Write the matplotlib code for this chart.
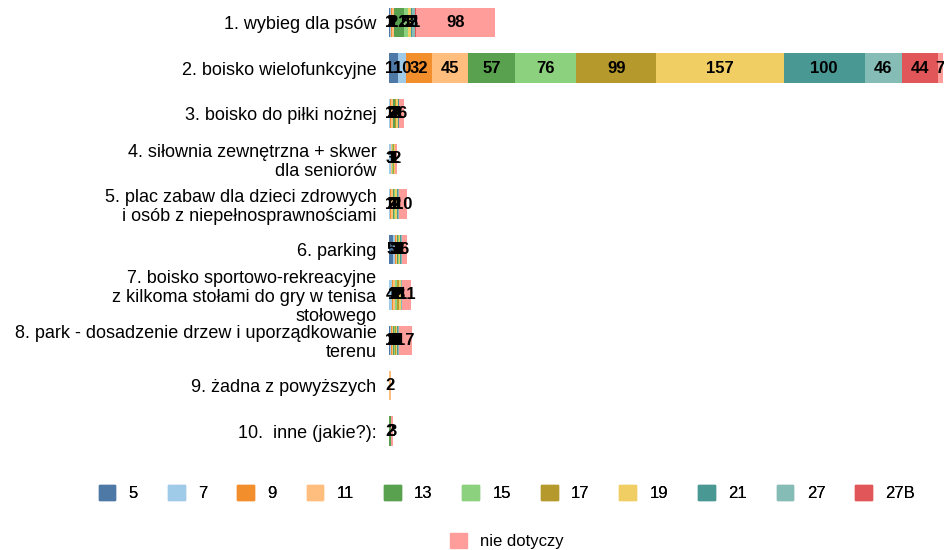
import matplotlib.pyplot as plt
import numpy as np
from matplotlib.patches import Patch

plt.rcParams['font.family'] = ['Liberation Sans', 'DejaVu Sans']

# categories (top to bottom)
categories = [
    "1. wybieg dla psów",
    "2. boisko wielofunkcyjne",
    "3. boisko do piłki nożnej",
    "4. siłownia zewnętrzna + skwer\ndla seniorów",
    "5. plac zabaw dla dzieci zdrowych\ni osób z niepełnosprawnościami",
    "6. parking",
    "7. boisko sportowo-rekreacyjne\nz kilkoma stołami do gry w tenisa\nstołowego",
    "8. park - dosadzenie drzew i uporządkowanie\nterenu",
    "9. żadna z powyższych",
    "10.  inne (jakie?):",
]

series_names = ["5", "7", "9", "11", "13", "15", "17", "19", "21", "27", "27B", "nie dotyczy"]
colors = ["#4e79a7", "#a0cbe8", "#f28e2b", "#ffbe7d", "#59a14f", "#8cd17d",
          "#b6992d", "#f1ce63", "#499894", "#86bcb6", "#e15759", "#ff9d9a"]

s5 = [1, 11, 0, 0, 0, 5, 0, 1, 0, 0]
s7 = [2, 10, 1, 3, 1, 3, 4, 2, 0, 0]
s9 = [1, 32, 2, 0, 2, 1, 1, 1, 0, 0]
s11 = [2, 45, 2, 1, 2, 1, 2, 1, 2, 0]
s13 = [12, 57, 2, 0, 1, 1, 1, 1, 0, 2]
s15 = [5, 76, 1, 1, 1, 2, 2, 2, 0, 0]
s17 = [1, 99, 1, 1, 1, 0, 2, 1, 0, 0]
s19 = [3, 157, 2, 1, 2, 1, 3, 1, 0, 0]
s21 = [2, 100, 1, 0, 1, 1, 0, 1, 0, 0]
s27 = [3, 46, 0, 1, 1, 1, 1, 1, 0, 0]
s27b = [1, 44, 1, 0, 0, 0, 0, 0, 0, 0]
nie_dotyczy = [98, 7, 6, 2, 10, 6, 11, 17, 0, 3]

data = [s5, s7, s9, s11, s13, s15, s17, s19, s21, s27, s27b, nie_dotyczy]

fig = plt.figure(figsize=(9.44, 5.5), dpi=100)
ax = fig.add_axes([0.412, 0.175, 0.588, 0.825])

y = np.arange(len(categories))
left = np.zeros(len(categories))
for name, vals, col in zip(series_names, data, colors):
    vals = np.array(vals, dtype=float)
    bars = ax.barh(y, vals, left=left, height=0.65, color=col, label=name)
    for b, v in zip(bars, vals):
        if v > 0:
            ax.text(b.get_x() + b.get_width() / 2, b.get_y() + b.get_height() / 2,
                    f"{int(v)}", ha="center", va="center", fontsize=12,
                    fontweight="bold", color="black")
    left += vals

ax.set_xlim(0, 685)
ax.set_ylim(len(categories) - 0.5, -0.5)
ax.set_yticks(y)
ax.set_yticklabels(categories, fontsize=13, linespacing=1.15)
ax.tick_params(axis="y", length=0, pad=9)
ax.set_xticks([])
for sp in ax.spines.values():
    sp.set_visible(False)

# legend: first eleven series on one row, "nie dotyczy" on its own row
h1 = [Patch(color=c) for c in colors[:11]]
leg1 = fig.legend(h1, series_names[:11], loc="center", bbox_to_anchor=(0.537, 0.103),
                  ncol=11, frameon=False, fontsize=12, handlelength=1.0,
                  handleheight=1.0, handletextpad=0.8, columnspacing=1.8)
fig.add_artist(leg1)
fig.legend([Patch(color=colors[11])], [series_names[11]], loc="center",
           bbox_to_anchor=(0.537, 0.016), frameon=False, fontsize=12,
           handlelength=1.0, handleheight=1.0, handletextpad=0.8)

fig.savefig("out.png", dpi=100)
